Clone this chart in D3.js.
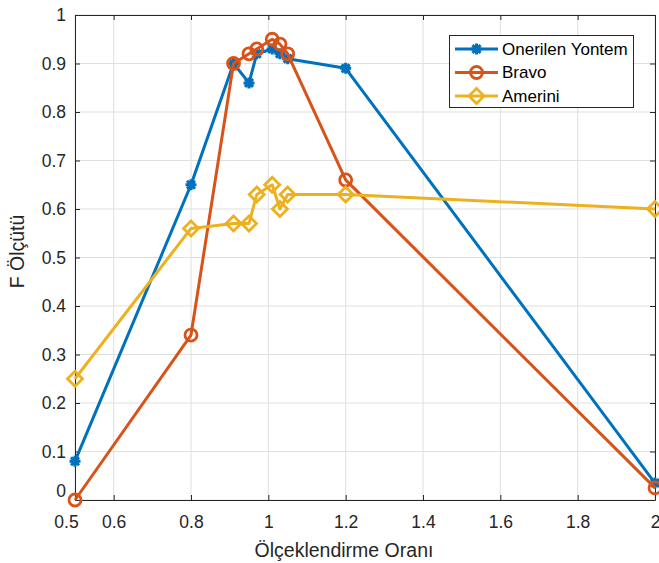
<!DOCTYPE html>
<html>
<head>
<meta charset="utf-8">
<script src="https://cdn.jsdelivr.net/npm/d3@7"></script>
<style>
  html, body { margin: 0; padding: 0; background: #fff; }
  svg { display: block; }
  text { font-family: "Liberation Sans", Arial, Helvetica, sans-serif; }
</style>
</head>
<body>
<svg id="chart" width="659" height="563"></svg>
<script>
// ---- data ----
const xValues = [0.5, 0.8, 0.91, 0.95, 0.97, 1.01, 1.03, 1.05, 1.2, 2];
const onerilenValues = [0.08, 0.65, 0.90, 0.86, 0.92, 0.93, 0.92, 0.91, 0.89, 0.035];
const bravoValues = [0.0, 0.34, 0.90, 0.92, 0.93, 0.95, 0.94, 0.92, 0.66, 0.025];
const ameriniValues = [0.25, 0.56, 0.57, 0.57, 0.63, 0.65, 0.60, 0.63, 0.63, 0.60];
const seriesNames = ["Onerilen Yontem", "Bravo", "Amerini"];
const xTicks = [0.5, 0.6, 0.8, 1, 1.2, 1.4, 1.6, 1.8, 2];
const yTicks = [0, 0.1, 0.2, 0.3, 0.4, 0.5, 0.6, 0.7, 0.8, 0.9, 1];
const xLabel = "Ölçeklendirme Oranı";
const yLabel = "F Ölçütü";

const series = [
  { name: seriesNames[0], values: onerilenValues, color: "#0072BD", marker: "asterisk" },
  { name: seriesNames[1], values: bravoValues, color: "#D95319", marker: "circle" },
  { name: seriesNames[2], values: ameriniValues, color: "#EDB120", marker: "diamond" }
];

const svg = d3.select("#chart");
const L = 75, R = 655, T = 15, B = 500;
const x = d3.scaleLinear().domain([0.5, 2]).range([L, R]);
const y = d3.scaleLinear().domain([0, 1]).range([B, T]);
const axisColor = "#262626";

// grid
const grid = svg.append("g");
grid.selectAll("line.vx").data(xTicks).enter().append("line")
  .attr("x1", d => x(d)).attr("x2", d => x(d)).attr("y1", T).attr("y2", B)
  .attr("stroke", "#dfdfdf").attr("stroke-width", 1);
grid.selectAll("line.hy").data(yTicks).enter().append("line")
  .attr("y1", d => y(d)).attr("y2", d => y(d)).attr("x1", L).attr("x2", R)
  .attr("stroke", "#dfdfdf").attr("stroke-width", 1);

// axes
const fmt = d => String(+d.toFixed(2));
const xAxis = svg.append("g").attr("transform", `translate(0,${B})`)
  .call(d3.axisBottom(x).tickValues(xTicks).tickFormat(fmt).tickSizeInner(-5).tickSizeOuter(0).tickPadding(16));
const yAxis = svg.append("g").attr("transform", `translate(${L},0)`)
  .call(d3.axisLeft(y).tickValues(yTicks).tickFormat(fmt).tickSizeInner(-5).tickSizeOuter(0).tickPadding(9));
const xTop = svg.append("g").attr("transform", `translate(0,${T})`)
  .call(d3.axisTop(x).tickValues(xTicks).tickFormat("").tickSizeInner(-5).tickSizeOuter(0));
const yRight = svg.append("g").attr("transform", `translate(${R},0)`)
  .call(d3.axisRight(y).tickValues(yTicks).tickFormat("").tickSizeInner(-5).tickSizeOuter(0));
[xAxis, yAxis, xTop, yRight].forEach(g => {
  g.select(".domain").attr("stroke", axisColor).attr("stroke-width", 1);
  g.selectAll(".tick line").attr("stroke", axisColor);
  g.selectAll("text").attr("fill", axisColor).style("font-size", "17.5px")
    .style("font-family", '"Liberation Sans", Arial, sans-serif');
});
// corner labels nudged like the original
xAxis.selectAll(".tick text").filter(d => d === 0.5).attr("dx", "-9");
yAxis.selectAll(".tick text").filter(d => d === 0).attr("transform", "translate(0,-9)");

// axis labels
svg.append("text").attr("x", 344).attr("y", 557).attr("text-anchor", "middle")
  .attr("fill", axisColor).style("font-size", "19.5px").text(xLabel);
svg.append("text").attr("transform", `translate(24,${(T + B) / 2 - 6}) rotate(-90)`)
  .attr("text-anchor", "middle").attr("fill", axisColor).style("font-size", "19.5px").text(yLabel);

// markers
function drawMarker(g, type, cx, cy, color) {
  if (type === "asterisk") {
    const s = 5.5, d = 4;
    const p = `M${cx - s},${cy}L${cx + s},${cy}M${cx},${cy - s}L${cx},${cy + s}` +
      `M${cx - d},${cy - d}L${cx + d},${cy + d}M${cx - d},${cy + d}L${cx + d},${cy - d}`;
    g.append("path").attr("d", p).attr("stroke", color).attr("stroke-width", 3).attr("fill", "none");
  } else if (type === "circle") {
    g.append("circle").attr("cx", cx).attr("cy", cy).attr("r", 6)
      .attr("fill", "none").attr("stroke", color).attr("stroke-width", 2.8);
  } else {
    const s = 7.5;
    g.append("path").attr("d", `M${cx},${cy - s}L${cx + s},${cy}L${cx},${cy + s}L${cx - s},${cy}Z`)
      .attr("fill", "none").attr("stroke", color).attr("stroke-width", 2.8);
  }
}

const line = d3.line().x(d => x(d[0])).y(d => y(d[1]));
series.forEach(s => {
  const pts = xValues.map((xv, i) => [xv, s.values[i]]);
  const g = svg.append("g");
  g.append("path").datum(pts).attr("d", line).attr("fill", "none")
    .attr("stroke", s.color).attr("stroke-width", 3).attr("stroke-linejoin", "round");
  pts.forEach(p => drawMarker(g, s.marker, x(p[0]), y(p[1]), s.color));
});

// legend
const lg = svg.append("g");
lg.append("rect").attr("x", 449.5).attr("y", 35.5).attr("width", 184).attr("height", 72)
  .attr("fill", "#fff").attr("stroke", axisColor).attr("stroke-width", 1);
series.forEach((s, i) => {
  const cy = 49 + i * 23.5;
  lg.append("line").attr("x1", 455).attr("x2", 498).attr("y1", cy).attr("y2", cy)
    .attr("stroke", s.color).attr("stroke-width", 3);
  drawMarker(lg, s.marker, 476.5, cy, s.color);
  lg.append("text").attr("x", 502).attr("y", cy).attr("dy", "0.35em")
    .attr("fill", "#000").style("font-size", "17px").text(s.name);
});
</script>
</body>
</html>
